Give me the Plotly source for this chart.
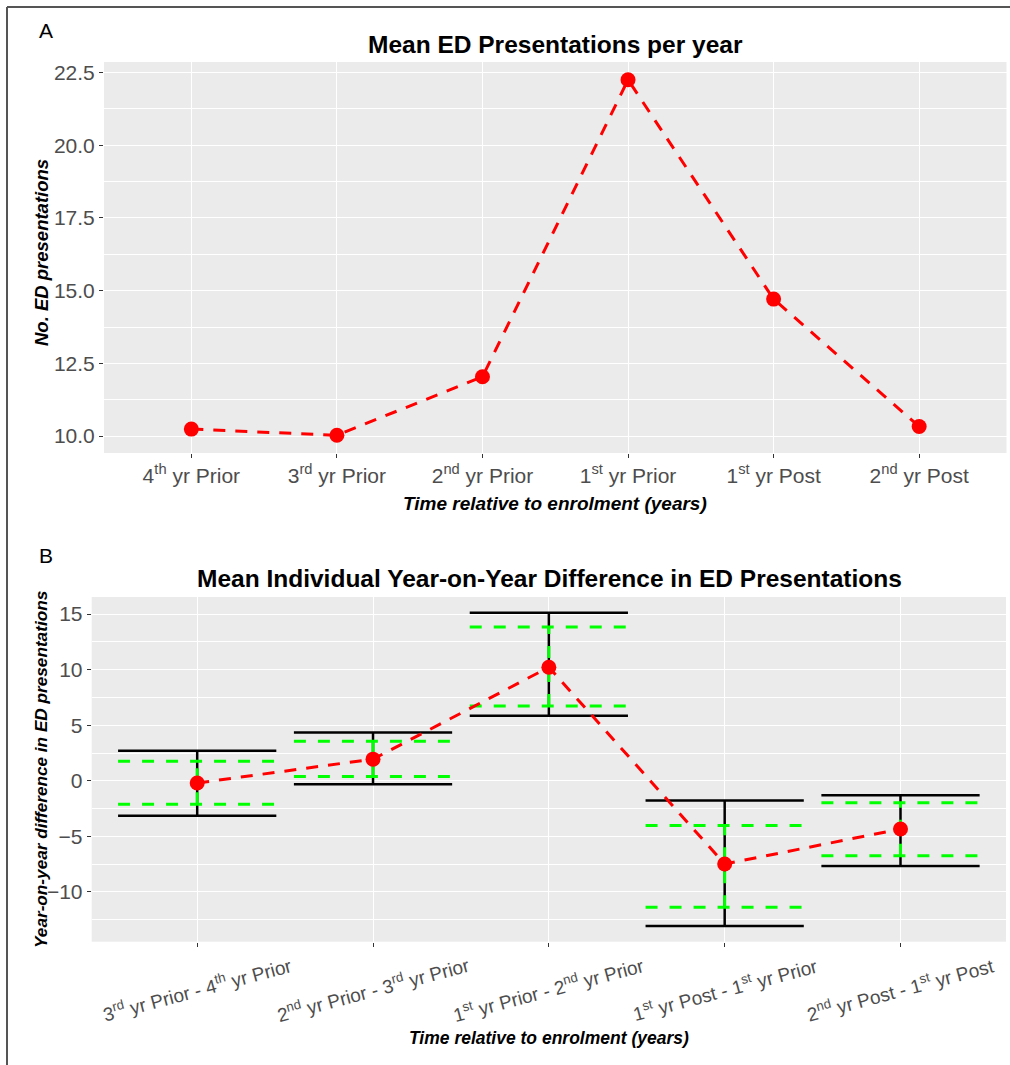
import plotly.graph_objects as go

# ---------------- data ----------------
years = ["4<sup>th</sup> yr Prior", "3<sup>rd</sup> yr Prior", "2<sup>nd</sup> yr Prior",
         "1<sup>st</sup> yr Prior", "1<sup>st</sup> yr Post", "2<sup>nd</sup> yr Post"]
mean_ed = [10.24, 10.03, 12.04, 22.25, 14.71, 10.33]

diffs = ["3<sup>rd</sup> yr Prior - 4<sup>th</sup> yr Prior",
         "2<sup>nd</sup> yr Prior - 3<sup>rd</sup> yr Prior",
         "1<sup>st</sup> yr Prior - 2<sup>nd</sup> yr Prior",
         "1<sup>st</sup> yr Post - 1<sup>st</sup> yr Prior",
         "2<sup>nd</sup> yr Post - 1<sup>st</sup> yr Post"]
diff_mean = [-0.20, 1.95, 10.22, -7.49, -4.34]
outer_lo = [-3.15, -0.30, 5.85, -13.07, -7.67]
outer_hi = [2.70, 4.35, 15.13, -1.77, -1.29]
inner_lo = [-2.10, 0.39, 6.74, -11.39, -6.74]
inner_hi = [1.77, 3.57, 13.85, -4.02, -1.98]

# ---------------- helpers ----------------
W, H = 1010, 1065
def px(x): return x / W
def py(y): return 1 - y / H

FONT = "Liberation Sans, Arial, sans-serif"
RED = "#FF0000"
GREEN = "#00FF00"
HALF = 0.45

fig = go.Figure()

# Panel A
xa = list(range(1, len(years) + 1))
fig.add_trace(go.Scatter(x=xa, y=mean_ed, mode="lines",
                         line=dict(color=RED, width=3, dash="12px,10px"),
                         xaxis="x", yaxis="y", showlegend=False, hoverinfo="skip"))
fig.add_trace(go.Scatter(x=xa, y=mean_ed, mode="markers",
                         marker=dict(color=RED, size=15),
                         xaxis="x", yaxis="y", showlegend=False))

# Panel B
xb = list(range(1, len(diffs) + 1))

def hsegs(ys):
    X, Y = [], []
    for xi, yi in zip(xb, ys):
        X += [xi - HALF, xi + HALF, None]
        Y += [yi, yi, None]
    return X, Y

def vsegs(lo, hi):
    X, Y = [], []
    for xi, a, b in zip(xb, lo, hi):
        X += [xi, xi, None]
        Y += [a, b, None]
    return X, Y

for ys in (outer_lo, outer_hi):
    X, Y = hsegs(ys)
    fig.add_trace(go.Scatter(x=X, y=Y, mode="lines", line=dict(color="black", width=2.5),
                             xaxis="x2", yaxis="y2", showlegend=False, hoverinfo="skip"))
X, Y = vsegs(outer_lo, outer_hi)
fig.add_trace(go.Scatter(x=X, y=Y, mode="lines", line=dict(color="black", width=2.5),
                         xaxis="x2", yaxis="y2", showlegend=False, hoverinfo="skip"))
for ys in (inner_lo, inner_hi):
    X, Y = hsegs(ys)
    fig.add_trace(go.Scatter(x=X, y=Y, mode="lines",
                             line=dict(color=GREEN, width=3, dash="12px,12px"),
                             xaxis="x2", yaxis="y2", showlegend=False, hoverinfo="skip"))
X, Y = vsegs(inner_lo, inner_hi)
fig.add_trace(go.Scatter(x=X, y=Y, mode="lines",
                         line=dict(color=GREEN, width=3, dash="12px,12px"),
                         xaxis="x2", yaxis="y2", showlegend=False, hoverinfo="skip"))
fig.add_trace(go.Scatter(x=xb, y=diff_mean, mode="lines",
                         line=dict(color=RED, width=3, dash="12px,10px"),
                         xaxis="x2", yaxis="y2", showlegend=False, hoverinfo="skip"))
fig.add_trace(go.Scatter(x=xb, y=diff_mean, mode="markers",
                         marker=dict(color=RED, size=15),
                         xaxis="x2", yaxis="y2", showlegend=False))

# ranges (ggplot-like 5% expansion)
a_lo, a_hi = min(mean_ed), max(mean_ed)
a_pad = 0.05 * (a_hi - a_lo)
b_lo, b_hi = min(outer_lo), max(outer_hi)
b_pad = 0.05 * (b_hi - b_lo)

axis_common = dict(showline=False, zeroline=False, gridcolor="white", gridwidth=1.2,
                   ticks="outside", ticklen=4, tickcolor="#333333", tickwidth=1,
                   tickfont=dict(family=FONT, size=21, color="#4D4D4D"))

fig.update_layout(
    width=W, height=H, margin=dict(l=0, r=0, t=0, b=0),
    paper_bgcolor="white", plot_bgcolor="#EBEBEB",
    xaxis=dict(domain=[px(104), px(1006.5)], anchor="y", range=[0.4, len(years) + 0.6],
               tickmode="array", tickvals=xa, ticktext=years, **axis_common),
    yaxis=dict(domain=[py(453), py(62)], anchor="x", range=[a_lo - a_pad, a_hi + a_pad],
               tickmode="array", tickvals=[10, 12.5, 15, 17.5, 20, 22.5],
               ticktext=["10.0", "12.5", "15.0", "17.5", "20.0", "22.5"],
               minor=dict(tickmode="array", tickvals=[8.75, 11.25, 13.75, 16.25, 18.75, 21.25, 23.75],
                          showgrid=True, gridcolor="white", gridwidth=0.6, ticks=""),
               **axis_common),
    xaxis2=dict(domain=[px(91.7), px(1006)], anchor="y2", range=[0.4, len(diffs) + 0.6],
                tickmode="array", tickvals=xb, ticktext=[""] * len(diffs),
                **axis_common),
    yaxis2=dict(domain=[py(941.7), py(597)], anchor="x2", range=[b_lo - b_pad, b_hi + b_pad],
                tickmode="array", tickvals=[-10, -5, 0, 5, 10, 15],
                minor=dict(tickmode="array", tickvals=[-12.5, -7.5, -2.5, 2.5, 7.5, 12.5],
                           showgrid=True, gridcolor="white", gridwidth=0.6, ticks=""),
                **axis_common),
)

ann = []
def add_text(text, x, y, size, bold=False, italic=False, angle=0, color="black"):
    t = text
    if italic:
        t = "<i>" + t + "</i>"
    if bold:
        t = "<b>" + t + "</b>"
    ann.append(dict(text=t, x=px(x), y=py(y), xref="paper", yref="paper",
                    xanchor="center", yanchor="middle", showarrow=False,
                    textangle=angle, font=dict(family=FONT, size=size, color=color)))

add_text("A", 46, 31, 21)
add_text("B", 46, 555, 21)
add_text("Mean ED Presentations per year", 555, 44, 24.5, bold=True)
add_text("Mean Individual Year-on-Year Difference in ED Presentations", 549, 578, 24.5, bold=True)
add_text("Time relative to enrolment (years)", 555, 503, 19, bold=True, italic=True)
add_text("Time relative to enrolment (years)", 549, 1038, 17.5, bold=True, italic=True)
add_text("No. ED presentations", 41, 253, 18.5, bold=True, italic=True, angle=-90)
add_text("Year-on-year difference in ED presentations", 41, 770, 17.2, bold=True, italic=True, angle=-90)

# rotated tick labels for panel B, placed at each category via the x2 scale
for xi, lab in zip(xb, diffs):
    ann.append(dict(text=lab, x=xi, y=py(989), xref="x2", yref="paper",
                    xanchor="center", yanchor="middle", showarrow=False, textangle=-15,
                    font=dict(family=FONT, size=19, color="#4D4D4D")))

fig.update_layout(annotations=ann)

# frame lines (top and left)
fig.add_shape(type="line", xref="paper", yref="paper", x0=px(7), x1=1, y0=py(7), y1=py(7),
              line=dict(color="#555555", width=2))
fig.add_shape(type="line", xref="paper", yref="paper", x0=px(7), x1=px(7), y0=py(7), y1=0,
              line=dict(color="#555555", width=2))

fig.write_html("out.html")
